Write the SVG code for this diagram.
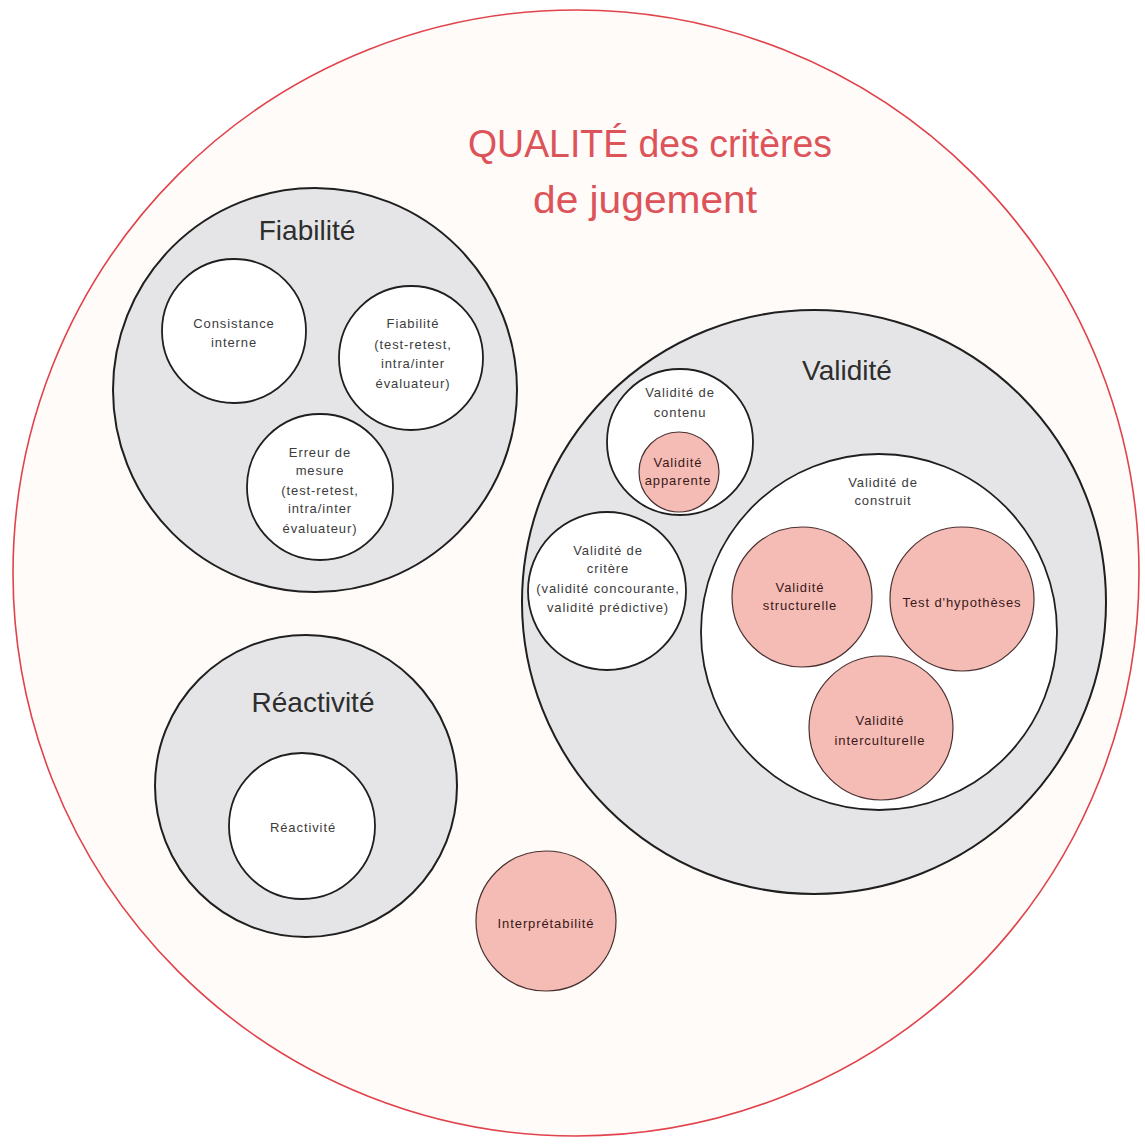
<svg xmlns="http://www.w3.org/2000/svg" width="1145" height="1147" viewBox="0 0 1145 1147">
<style>
.grp{fill:#e5e5e7;stroke:#1f1f1f;stroke-width:2}
.wht{fill:#ffffff;stroke:#1f1f1f;stroke-width:1.8}
.pnk{fill:#f5bcb5;stroke:#4a3030;stroke-width:1.2}
.big{font-family:"Liberation Sans",Arial,sans-serif;font-size:28px;fill:#2e2e2e;text-anchor:middle}
.sm{font-family:"Liberation Sans",Arial,sans-serif;font-size:13px;letter-spacing:0.9px;fill:#3c3c3c;text-anchor:middle}
.smp{font-family:"Liberation Sans",Arial,sans-serif;font-size:13px;letter-spacing:0.9px;fill:#3a1818;text-anchor:middle}
.title{font-family:"Liberation Sans",Arial,sans-serif;font-size:38px;fill:#dc5459;text-anchor:middle}
</style>
<rect x="0" y="0" width="1145" height="1147" fill="#ffffff"/>
<g id="qualite">
<circle cx="576" cy="573" r="563" fill="#fffbf9" stroke="#e0434b" stroke-width="1.6"/>
<text class="title" x="650" y="157" textLength="364" lengthAdjust="spacingAndGlyphs">QUALITÉ des critères</text>
<text class="title" x="645" y="213" textLength="224" lengthAdjust="spacingAndGlyphs">de jugement</text>
</g>
<g id="fiabilite">
<circle class="grp" cx="315" cy="390" r="202"/>
<text class="big" x="307" y="240">Fiabilité</text>
</g>
<g id="consistance">
<circle class="wht" cx="234" cy="331" r="72"/>
<text class="sm" x="234" y="328">Consistance</text>
<text class="sm" x="234" y="347">interne</text>
</g>
<g id="fiabilite-test">
<circle class="wht" cx="411" cy="358" r="72"/>
<text class="sm" x="413" y="328">Fiabilité</text>
<text class="sm" x="413" y="349">(test-retest,</text>
<text class="sm" x="413" y="368">intra/inter</text>
<text class="sm" x="413" y="388">évaluateur)</text>
</g>
<g id="erreur">
<circle class="wht" cx="320" cy="487" r="73"/>
<text class="sm" x="320" y="457">Erreur de</text>
<text class="sm" x="320" y="475">mesure</text>
<text class="sm" x="320" y="495">(test-retest,</text>
<text class="sm" x="320" y="513">intra/inter</text>
<text class="sm" x="320" y="533">évaluateur)</text>
</g>
<g id="reactivite">
<circle class="grp" cx="306" cy="786" r="151"/>
<text class="big" x="313" y="712">Réactivité</text>
</g>
<g id="reactivite-inner">
<circle class="wht" cx="302" cy="826" r="73"/>
<text class="sm" x="303" y="832">Réactivité</text>
</g>
<g id="validite">
<circle class="grp" cx="814" cy="602" r="292"/>
<text class="big" x="847" y="380">Validité</text>
</g>
<g id="contenu">
<circle class="wht" cx="680" cy="442" r="73"/>
<text class="sm" x="680" y="397">Validité de</text>
<text class="sm" x="680" y="417">contenu</text>
</g>
<g id="apparente">
<circle class="pnk" cx="679" cy="472" r="40"/>
<text class="smp" x="678" y="467">Validité</text>
<text class="smp" x="678" y="485">apparente</text>
</g>
<g id="critere">
<circle class="wht" cx="607" cy="591" r="79"/>
<text class="sm" x="608" y="555">Validité de</text>
<text class="sm" x="608" y="573">critère</text>
<text class="sm" x="608" y="593" letter-spacing="0.4">(validité concourante,</text>
<text class="sm" x="608" y="612" letter-spacing="0.4">validité prédictive)</text>
</g>
<g id="construit">
<circle class="wht" cx="879" cy="632" r="178"/>
<text class="sm" x="883" y="487">Validité de</text>
<text class="sm" x="883" y="505">construit</text>
</g>
<g id="structurelle">
<circle class="pnk" cx="802" cy="597" r="70"/>
<text class="smp" x="800" y="592">Validité</text>
<text class="smp" x="800" y="610">structurelle</text>
</g>
<g id="hypotheses">
<circle class="pnk" cx="962" cy="599" r="72"/>
<text class="smp" x="962" y="607">Test d'hypothèses</text>
</g>
<g id="interculturelle">
<circle class="pnk" cx="881" cy="728" r="72"/>
<text class="smp" x="880" y="725">Validité</text>
<text class="smp" x="880" y="745">interculturelle</text>
</g>
<g id="interpretabilite">
<circle class="pnk" cx="546" cy="921" r="70" stroke="#8a6464"/>
<text class="smp" x="546" y="928">Interprétabilité</text>
</g>
</svg>
